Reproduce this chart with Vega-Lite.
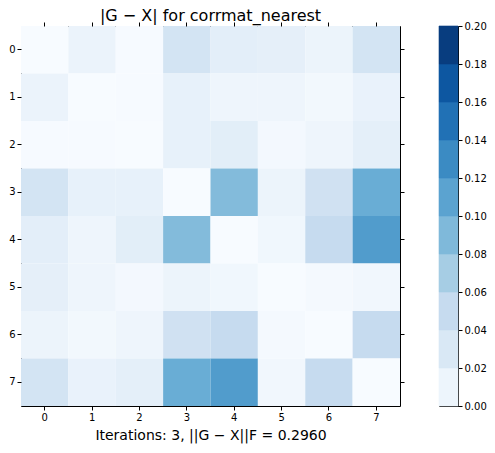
{
  "$schema": "https://vega.github.io/schema/vega-lite/v6.json",
  "padding": {"left": 8, "top": 7, "right": 5, "bottom": 5},
  "bounds": "flush",
  "spacing": 39,
  "config": {
    "font": "DejaVu Sans",
    "view": {"stroke": "#000", "strokeWidth": 1},
    "axis": {"grid": false, "domain": false, "tickColor": "#000", "labelColor": "#000", "labelFont": "DejaVu Sans", "labelFontSize": 10, "tickSize": 4, "labelPadding": 2, "titleFont": "DejaVu Sans", "titleColor": "#000", "titleFontWeight": "normal"}
  },
  "datasets": {
    "cells": [
      {"i": 0, "j": 0, "v": 0.0}, {"i": 0, "j": 1, "v": 0.012}, {"i": 0, "j": 2, "v": 0.001}, {"i": 0, "j": 3, "v": 0.036}, {"i": 0, "j": 4, "v": 0.020}, {"i": 0, "j": 5, "v": 0.018}, {"i": 0, "j": 6, "v": 0.011}, {"i": 0, "j": 7, "v": 0.036},
      {"i": 1, "j": 0, "v": 0.012}, {"i": 1, "j": 1, "v": 0.0}, {"i": 1, "j": 2, "v": 0.001}, {"i": 1, "j": 3, "v": 0.016}, {"i": 1, "j": 4, "v": 0.009}, {"i": 1, "j": 5, "v": 0.009}, {"i": 1, "j": 6, "v": 0.005}, {"i": 1, "j": 7, "v": 0.014},
      {"i": 2, "j": 0, "v": 0.001}, {"i": 2, "j": 1, "v": 0.001}, {"i": 2, "j": 2, "v": 0.0}, {"i": 2, "j": 3, "v": 0.016}, {"i": 2, "j": 4, "v": 0.021}, {"i": 2, "j": 5, "v": 0.004}, {"i": 2, "j": 6, "v": 0.009}, {"i": 2, "j": 7, "v": 0.019},
      {"i": 3, "j": 0, "v": 0.036}, {"i": 3, "j": 1, "v": 0.016}, {"i": 3, "j": 2, "v": 0.016}, {"i": 3, "j": 3, "v": 0.0}, {"i": 3, "j": 4, "v": 0.088}, {"i": 3, "j": 5, "v": 0.011}, {"i": 3, "j": 6, "v": 0.040}, {"i": 3, "j": 7, "v": 0.101},
      {"i": 4, "j": 0, "v": 0.020}, {"i": 4, "j": 1, "v": 0.009}, {"i": 4, "j": 2, "v": 0.021}, {"i": 4, "j": 3, "v": 0.088}, {"i": 4, "j": 4, "v": 0.0}, {"i": 4, "j": 5, "v": 0.007}, {"i": 4, "j": 6, "v": 0.050}, {"i": 4, "j": 7, "v": 0.116},
      {"i": 5, "j": 0, "v": 0.018}, {"i": 5, "j": 1, "v": 0.009}, {"i": 5, "j": 2, "v": 0.004}, {"i": 5, "j": 3, "v": 0.011}, {"i": 5, "j": 4, "v": 0.007}, {"i": 5, "j": 5, "v": 0.0}, {"i": 5, "j": 6, "v": 0.003}, {"i": 5, "j": 7, "v": 0.006},
      {"i": 6, "j": 0, "v": 0.011}, {"i": 6, "j": 1, "v": 0.005}, {"i": 6, "j": 2, "v": 0.009}, {"i": 6, "j": 3, "v": 0.040}, {"i": 6, "j": 4, "v": 0.050}, {"i": 6, "j": 5, "v": 0.003}, {"i": 6, "j": 6, "v": 0.0}, {"i": 6, "j": 7, "v": 0.050},
      {"i": 7, "j": 0, "v": 0.036}, {"i": 7, "j": 1, "v": 0.014}, {"i": 7, "j": 2, "v": 0.019}, {"i": 7, "j": 3, "v": 0.101}, {"i": 7, "j": 4, "v": 0.116}, {"i": 7, "j": 5, "v": 0.006}, {"i": 7, "j": 6, "v": 0.050}, {"i": 7, "j": 7, "v": 0.0}
    ],
    "bins": [
      {"lo": 0.00, "hi": 0.02, "mid": 0.01}, {"lo": 0.02, "hi": 0.04, "mid": 0.03}, {"lo": 0.04, "hi": 0.06, "mid": 0.05}, {"lo": 0.06, "hi": 0.08, "mid": 0.07}, {"lo": 0.08, "hi": 0.10, "mid": 0.09},
      {"lo": 0.10, "hi": 0.12, "mid": 0.11}, {"lo": 0.12, "hi": 0.14, "mid": 0.13}, {"lo": 0.14, "hi": 0.16, "mid": 0.15}, {"lo": 0.16, "hi": 0.18, "mid": 0.17}, {"lo": 0.18, "hi": 0.20, "mid": 0.19}
    ]
  },
  "hconcat": [
    {
      "width": 379,
      "height": 380,
      "title": {"text": "|G − X| for corrmat_nearest", "fontSize": 16, "fontWeight": "normal", "font": "DejaVu Sans", "color": "#000", "offset": -2},
      "data": {"name": "cells"},
      "layer": [
        {
          "mark": {"type": "rect"},
          "encoding": {
            "x": {"field": "j", "type": "ordinal", "scale": {"paddingInner": 0, "paddingOuter": 0}, "axis": {"labelAngle": 0, "title": "Iterations: 3, ||G − X||F = 0.2960", "titleFontSize": 14, "titlePadding": 6}},
            "y": {"field": "i", "type": "ordinal", "scale": {"paddingInner": 0, "paddingOuter": 0}, "axis": {"title": null}},
            "color": {"field": "v", "type": "quantitative", "legend": null, "scale": {"type": "linear", "domain": [0, 0.025, 0.05, 0.075, 0.1, 0.125, 0.15, 0.175, 0.2], "range": ["#f7fbff", "#deebf7", "#c6dbef", "#9ecae1", "#6baed6", "#4292c6", "#2171b5", "#08519c", "#08306b"], "interpolate": "rgb", "clamp": true}}
          }
        },
        {
          "mark": {"type": "rect", "opacity": 0},
          "encoding": {
            "x": {"field": "j", "type": "ordinal", "axis": {"orient": "top", "labels": false, "title": null}},
            "y": {"field": "i", "type": "ordinal", "axis": {"orient": "right", "labels": false, "title": null}}
          }
        }
      ],
      "resolve": {"axis": {"x": "independent", "y": "independent"}}
    },
    {
      "width": 19,
      "height": 380,
      "data": {"name": "bins"},
      "mark": {"type": "rect", "strokeWidth": 0.6},
      "encoding": {
        "y": {"field": "lo", "type": "quantitative", "scale": {"domain": [0, 0.2], "nice": false}, "axis": {"orient": "right", "values": [0, 0.02, 0.04, 0.06, 0.08, 0.1, 0.12, 0.14, 0.16, 0.18, 0.2], "format": ".2f", "title": null}},
        "y2": {"field": "hi"},
        "color": {"field": "mid", "type": "quantitative", "legend": null, "scale": {"type": "linear", "domain": [0, 0.025, 0.05, 0.075, 0.1, 0.125, 0.15, 0.175, 0.2], "range": ["#f7fbff", "#deebf7", "#c6dbef", "#9ecae1", "#6baed6", "#4292c6", "#2171b5", "#08519c", "#08306b"], "interpolate": "rgb"}},
        "stroke": {"field": "mid", "type": "quantitative", "legend": null, "scale": {"type": "linear", "domain": [0, 0.025, 0.05, 0.075, 0.1, 0.125, 0.15, 0.175, 0.2], "range": ["#f7fbff", "#deebf7", "#c6dbef", "#9ecae1", "#6baed6", "#4292c6", "#2171b5", "#08519c", "#08306b"], "interpolate": "rgb"}}
      }
    }
  ],
  "resolve": {"scale": {"color": "independent", "stroke": "independent"}}
}
